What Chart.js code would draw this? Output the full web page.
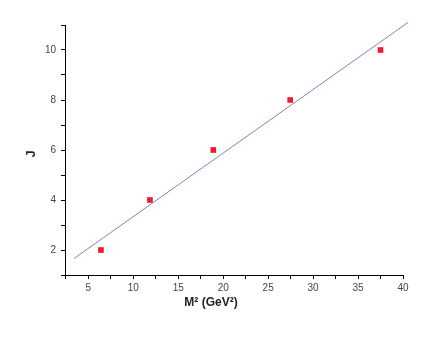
<!DOCTYPE html>
<html>
<head>
<meta charset="utf-8">
<script src="https://cdn.jsdelivr.net/npm/chart.js@4/dist/chart.umd.min.js"></script>
<style>
  html, body { margin: 0; padding: 0; background: #fff; }
  #wrap { width: 436px; height: 338px; position: relative; }
</style>
</head>
<body>
<div id="wrap"><canvas id="regge"></canvas></div>
<script>
// measured points (M^2 in GeV^2, J)
const massSq = [6.4, 11.85, 18.9, 27.45, 37.5]
const spinJ = [2, 4, 6, 8, 10]

// fitted straight line, its two ends
const fitX = [3.4, 40.55]
const fitY = [1.66, 11.1]

const xMajorTicks = [5, 10, 15, 20, 25, 30, 35, 40]
const xMinorTicks = [2.5, 7.5, 12.5, 17.5, 22.5, 27.5, 32.5, 37.5]
const yMajorTicks = [2, 4, 6, 8, 10]
const yMinorTicks = [1, 3, 5, 7, 9, 11]

const xTitle = 'M² (GeV²)'
const yTitle = 'J'

const points = massSq.map((m, i) => ({ x: m, y: spinJ[i] }))
const fitLine = fitX.map((m, i) => ({ x: m, y: fitY[i] }))

// axis titles drawn by hand: the x one sits left of the axis centre in the original
const axisTitles = {
    id: 'axisTitles',
    afterDraw(chart) {
        const { ctx, chartArea } = chart
        ctx.save()
        ctx.fillStyle = '#222'
        ctx.font = 'bold 12px "Liberation Sans", Arial, sans-serif'
        ctx.textAlign = 'center'
        ctx.textBaseline = 'middle'
        ctx.fillText(xTitle, chartArea.left + 146, chartArea.bottom + 28)
        ctx.font = 'bold 13px "Liberation Sans", Arial, sans-serif'
        ctx.translate(chartArea.left - 34, (chartArea.top + chartArea.bottom) / 2 + 4)
        ctx.rotate(-Math.PI / 2)
        ctx.fillText(yTitle, 0, 0)
        ctx.restore()
    }
}

const tickFont = { family: '"Liberation Sans", Arial, sans-serif', size: 10 }

const chart = new Chart(document.getElementById('regge'), {
    type: 'scatter',
    data: {
        datasets: [{
            label: 'fit',
            data: fitLine,
            showLine: true,
            borderColor: '#7f7fc4',
            borderWidth: 1,
            pointRadius: 0,
            clip: false
        }, {
            label: 'J',
            data: points,
            pointStyle: 'rect',
            pointRadius: 4,
            pointHoverRadius: 4,
            pointBorderWidth: 0,
            backgroundColor: '#ec1c2c',
            borderColor: '#ec1c2c'
        }]
    },
    options: {
        responsive: true,
        maintainAspectRatio: false,
        animation: false,
        layout: { padding: { top: 25, right: 33, bottom: 0, left: 0 } },
        plugins: {
            legend: { display: false },
            tooltip: { enabled: false }
        },
        scales: {
            x: {
                type: 'linear',
                min: 2.4,
                max: 40,
                afterBuildTicks: s => {
                    s.ticks = [...xMinorTicks, ...xMajorTicks].sort((a, b) => a - b).map(v => ({ value: v }))
                },
                afterFit: s => { s.height = 63 },
                grid: { drawOnChartArea: false, tickLength: 4, color: '#000' },
                border: { color: '#000', width: 1 },
                ticks: {
                    autoSkip: false,
                    maxRotation: 0,
                    padding: 3,
                    color: '#444',
                    font: tickFont,
                    callback: v => xMajorTicks.includes(v) ? String(v) : ''
                }
            },
            y: {
                type: 'linear',
                min: 1,
                max: 11,
                afterBuildTicks: s => {
                    s.ticks = [...yMinorTicks, ...yMajorTicks].sort((a, b) => a - b).map(v => ({ value: v }))
                },
                afterFit: s => { s.width = 65 },
                grid: { drawOnChartArea: false, tickLength: 4, color: '#000' },
                border: { color: '#000', width: 1 },
                ticks: {
                    autoSkip: false,
                    padding: 5,
                    color: '#444',
                    font: tickFont,
                    callback: v => yMajorTicks.includes(v) ? String(v) : ''
                }
            }
        }
    },
    plugins: [axisTitles]
})
</script>
</body>
</html>
